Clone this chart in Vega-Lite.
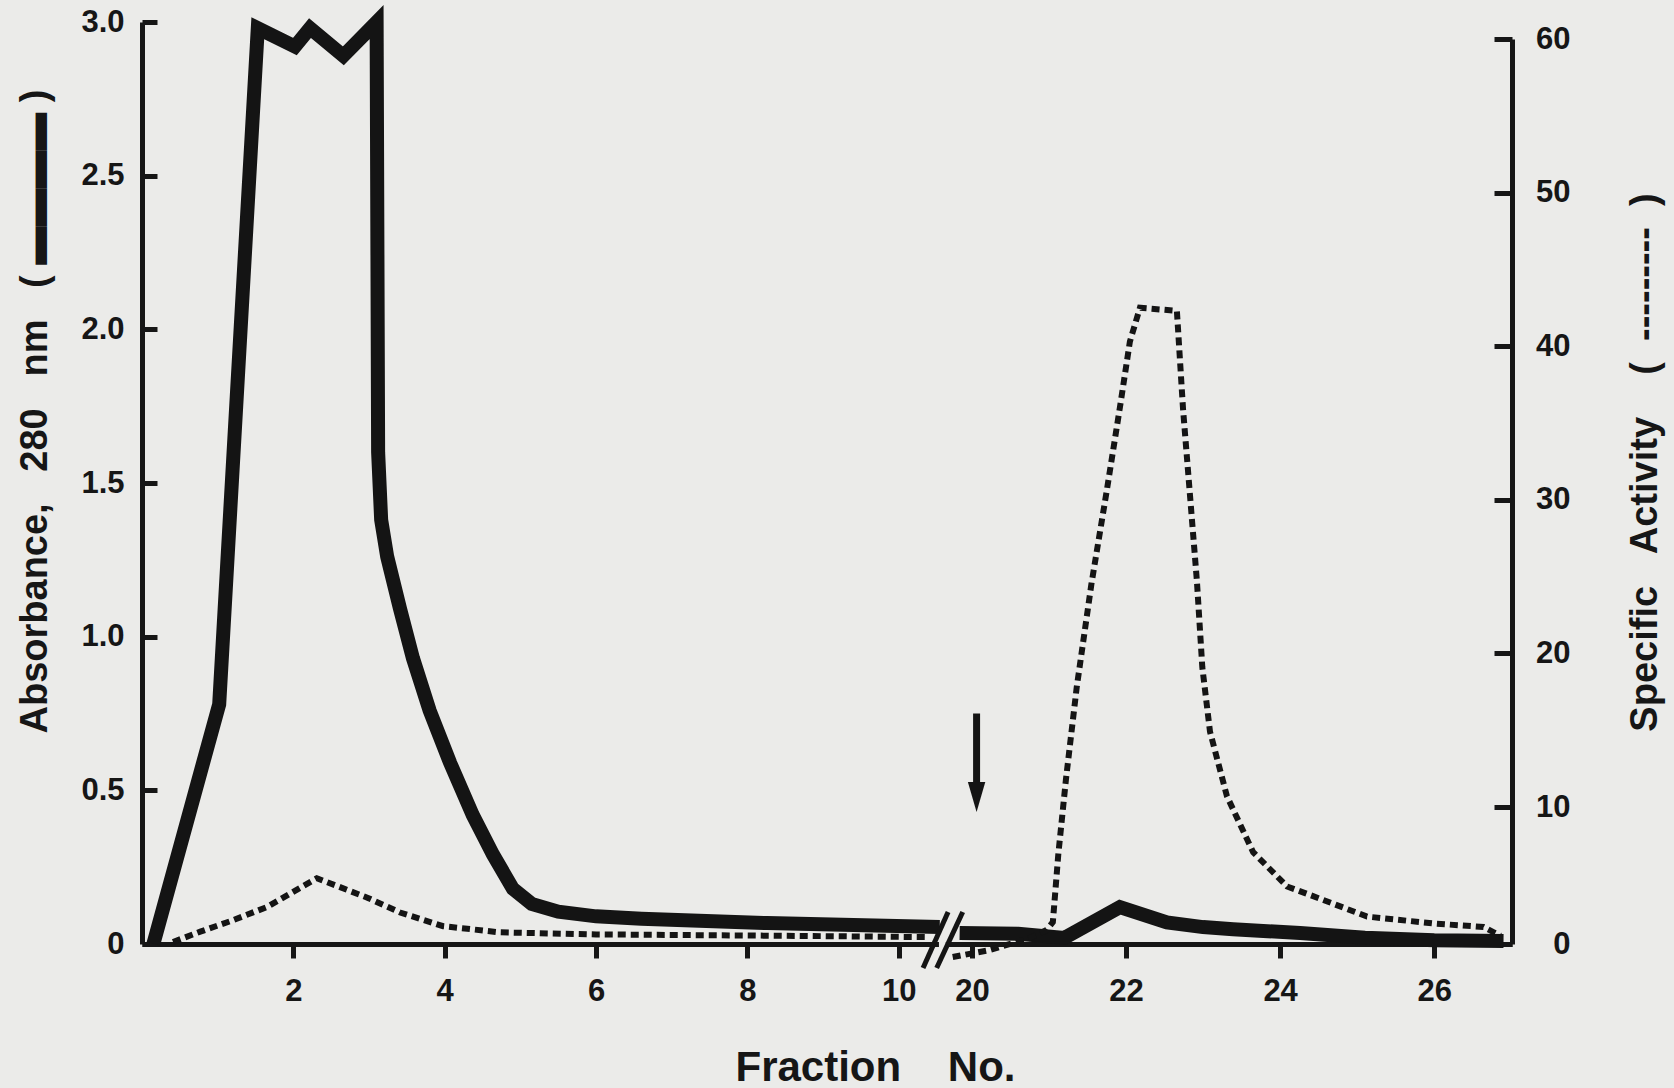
{
  "$schema": "https://vega.github.io/schema/vega-lite/v6.json",
  "width": 1370,
  "height": 922,
  "autosize": {"type": "none"},
  "padding": {"left": 142, "top": 22, "right": 162, "bottom": 144},
  "background": "#ebebe9",
  "config": {
    "view": {"stroke": null},
    "font": "Liberation Sans",
    "axis": {
      "grid": false,
      "labelFont": "Liberation Sans",
      "labelFontWeight": "bold",
      "labelFontSize": 31,
      "labelColor": "#161616",
      "titleFont": "Liberation Sans",
      "titleFontWeight": "bold",
      "titleFontSize": 38,
      "titleColor": "#161616",
      "domainColor": "#161616",
      "domainWidth": 5,
      "tickColor": "#161616",
      "tickWidth": 5
    }
  },
  "datasets": {
    "absorbance": [
      {"part": "A", "fraction": 0.15, "absorbance": 0},
      {"part": "A", "fraction": 1.02, "absorbance": 0.78},
      {"part": "A", "fraction": 1.53, "absorbance": 2.98},
      {"part": "A", "fraction": 2.02, "absorbance": 2.92},
      {"part": "A", "fraction": 2.22, "absorbance": 2.98},
      {"part": "A", "fraction": 2.66, "absorbance": 2.89},
      {"part": "A", "fraction": 3.10, "absorbance": 3.0},
      {"part": "A", "fraction": 3.12, "absorbance": 1.6},
      {"part": "A", "fraction": 3.16, "absorbance": 1.38},
      {"part": "A", "fraction": 3.24, "absorbance": 1.26},
      {"part": "A", "fraction": 3.41, "absorbance": 1.09},
      {"part": "A", "fraction": 3.58, "absorbance": 0.93},
      {"part": "A", "fraction": 3.80, "absorbance": 0.76},
      {"part": "A", "fraction": 4.07, "absorbance": 0.59},
      {"part": "A", "fraction": 4.37, "absorbance": 0.42},
      {"part": "A", "fraction": 4.64, "absorbance": 0.29},
      {"part": "A", "fraction": 4.90, "absorbance": 0.18},
      {"part": "A", "fraction": 5.15, "absorbance": 0.13},
      {"part": "A", "fraction": 5.50, "absorbance": 0.105},
      {"part": "A", "fraction": 6.0, "absorbance": 0.09},
      {"part": "A", "fraction": 6.6, "absorbance": 0.082},
      {"part": "A", "fraction": 8.26, "absorbance": 0.068},
      {"part": "A", "fraction": 10.54, "absorbance": 0.055},
      {"part": "B", "fraction": 19.84, "absorbance": 0.036},
      {"part": "B", "fraction": 20.6, "absorbance": 0.033},
      {"part": "B", "fraction": 21.2, "absorbance": 0.02},
      {"part": "B", "fraction": 21.92, "absorbance": 0.12},
      {"part": "B", "fraction": 22.53, "absorbance": 0.07},
      {"part": "B", "fraction": 23.0, "absorbance": 0.055},
      {"part": "B", "fraction": 23.39, "absorbance": 0.048},
      {"part": "B", "fraction": 24.26, "absorbance": 0.036},
      {"part": "B", "fraction": 25.1, "absorbance": 0.02},
      {"part": "B", "fraction": 26.0, "absorbance": 0.012},
      {"part": "B", "fraction": 26.9, "absorbance": 0.01}
    ],
    "activity": [
      {"part": "A", "fraction": 0.41, "activity": 0.15},
      {"part": "A", "fraction": 0.77, "activity": 0.9},
      {"part": "A", "fraction": 1.21, "activity": 1.75},
      {"part": "A", "fraction": 1.65, "activity": 2.7},
      {"part": "A", "fraction": 2.31, "activity": 4.8},
      {"part": "A", "fraction": 2.97, "activity": 3.4},
      {"part": "A", "fraction": 3.41, "activity": 2.3},
      {"part": "A", "fraction": 3.98, "activity": 1.3},
      {"part": "A", "fraction": 4.73, "activity": 0.85},
      {"part": "A", "fraction": 6.0, "activity": 0.7},
      {"part": "A", "fraction": 8.0, "activity": 0.62},
      {"part": "A", "fraction": 9.5, "activity": 0.55},
      {"part": "A", "fraction": 10.4, "activity": 0.5},
      {"part": "B", "fraction": 19.75, "activity": -0.95},
      {"part": "B", "fraction": 20.23, "activity": -0.44},
      {"part": "B", "fraction": 20.75, "activity": 0.44},
      {"part": "B", "fraction": 20.97, "activity": 1.02},
      {"part": "B", "fraction": 21.05, "activity": 1.6},
      {"part": "B", "fraction": 21.12, "activity": 6.5},
      {"part": "B", "fraction": 21.22, "activity": 11.8},
      {"part": "B", "fraction": 21.36, "activity": 17.8},
      {"part": "B", "fraction": 21.55, "activity": 24.5},
      {"part": "B", "fraction": 21.75, "activity": 30.6},
      {"part": "B", "fraction": 21.92, "activity": 36.0},
      {"part": "B", "fraction": 22.05, "activity": 40.3},
      {"part": "B", "fraction": 22.18, "activity": 42.5},
      {"part": "B", "fraction": 22.66, "activity": 42.3},
      {"part": "B", "fraction": 22.74, "activity": 35.9},
      {"part": "B", "fraction": 22.83, "activity": 30.3},
      {"part": "B", "fraction": 22.92, "activity": 24.7},
      {"part": "B", "fraction": 22.99, "activity": 19.1},
      {"part": "B", "fraction": 23.09, "activity": 14.9},
      {"part": "B", "fraction": 23.31, "activity": 10.7},
      {"part": "B", "fraction": 23.65, "activity": 6.7},
      {"part": "B", "fraction": 24.09, "activity": 4.2},
      {"part": "B", "fraction": 24.52, "activity": 3.3},
      {"part": "B", "fraction": 25.13, "activity": 2.0},
      {"part": "B", "fraction": 25.99, "activity": 1.5},
      {"part": "B", "fraction": 26.64, "activity": 1.24},
      {"part": "B", "fraction": 26.86, "activity": 0.6}
    ],
    "arrow": [
      {"fraction": 20.06, "top": 0.75, "bottom": 0.5, "tip": 0.478}
    ],
    "gap": [
      {"from": 10.53, "to": 19.66, "level": 0}
    ],
    "slashes": [
      {"from": 10.32, "to": 19.69, "low": -0.078, "high": 0.104},
      {"from": 10.50, "to": 19.88, "low": -0.078, "high": 0.104}
    ]
  },
  "layer": [
    {
      "data": {"name": "absorbance"},
      "mark": {"type": "line", "color": "#141414", "strokeWidth": 14, "strokeJoin": "miter", "strokeMiterLimit": 10, "strokeCap": "butt"},
      "encoding": {
        "x": {
          "field": "fraction",
          "type": "quantitative",
          "scale": {"domain": [0, 10.61, 19.65, 27.01], "range": [0, 803, 803, 1370], "nice": false, "zero": false},
          "axis": {
            "orient": "bottom",
            "values": [2, 4, 6, 8, 10, 20, 22, 24, 26],
            "format": "d",
            "tickSize": 14,
            "labelPadding": 18,
            "title": "Fraction\u00a0\u00a0\u00a0\u00a0No.",
            "titleFontSize": 42,
            "titleX": 733,
            "titleY": 123,
            "titleAlign": "center",
            "titleBaseline": "middle",
            "titleAnchor": "middle"
          }
        },
        "y": {
          "field": "absorbance",
          "type": "quantitative",
          "scale": {"domain": [0, 3], "nice": false, "zero": true},
          "axis": {
            "orient": "left",
            "values": [0, 0.5, 1, 1.5, 2, 2.5, 3],
            "labelExpr": "datum.value == 0 ? '0' : format(datum.value, '.1f')",
            "tickSize": -15,
            "labelPadding": 33,
            "labelBaseline": "middle",
            "title": "Absorbance,\u00a0\u00a0\u00a0280\u00a0\u00a0\u00a0nm\u00a0\u00a0\u00a0(\u00a0▬▬▬▬\u00a0)",
            "titleAngle": -90,
            "titleX": -107,
            "titleY": 389,
            "titleAlign": "center",
            "titleBaseline": "middle"
          }
        },
        "detail": {"field": "part", "type": "nominal"}
      }
    },
    {
      "data": {"name": "activity"},
      "mark": {"type": "line", "color": "#141414", "strokeWidth": 6, "strokeDash": [8, 5], "strokeCap": "butt"},
      "encoding": {
        "x": {
          "field": "fraction",
          "type": "quantitative",
          "scale": {"domain": [0, 10.61, 19.65, 27.01], "range": [0, 803, 803, 1370], "nice": false, "zero": false}
        },
        "y": {
          "field": "activity",
          "type": "quantitative",
          "scale": {"domain": [0, 10, 60], "range": [922, 785, 17], "nice": false, "zero": false},
          "axis": {
            "orient": "right",
            "values": [0, 10, 20, 30, 40, 50, 60],
            "format": "d",
            "tickSize": -18,
            "labelPadding": 76,
            "labelAlign": "right",
            "labelBaseline": "middle",
            "title": "Specific\u00a0\u00a0\u00a0Activity\u00a0\u00a0\u00a0\u00a0(\u00a0\u00a0---------\u00a0\u00a0)",
            "titleAngle": -90,
            "titleX": 133,
            "titleY": 440,
            "titleAlign": "center",
            "titleBaseline": "middle"
          }
        },
        "detail": {"field": "part", "type": "nominal"}
      }
    },
    {
      "data": {"name": "gap"},
      "mark": {"type": "rule", "color": "#ebebe9", "strokeWidth": 9},
      "encoding": {
        "x": {"field": "from", "type": "quantitative"},
        "x2": {"field": "to"},
        "y": {"field": "level", "type": "quantitative", "scale": {"domain": [0, 3], "nice": false}, "axis": null}
      }
    },
    {
      "data": {"name": "slashes"},
      "mark": {"type": "rule", "color": "#141414", "strokeWidth": 5},
      "encoding": {
        "x": {"field": "from", "type": "quantitative"},
        "x2": {"field": "to"},
        "y": {"field": "low", "type": "quantitative", "scale": {"domain": [0, 3], "nice": false}, "axis": null},
        "y2": {"field": "high"}
      }
    },
    {
      "data": {"name": "arrow"},
      "mark": {"type": "rule", "color": "#141414", "strokeWidth": 7},
      "encoding": {
        "x": {"field": "fraction", "type": "quantitative"},
        "y": {"field": "top", "type": "quantitative", "scale": {"domain": [0, 3], "nice": false}, "axis": null},
        "y2": {"field": "bottom"}
      }
    },
    {
      "data": {"name": "arrow"},
      "mark": {"type": "point", "shape": "M-0.58,-1L0.58,-1L0,1Z", "size": 900, "filled": true, "color": "#141414", "opacity": 1},
      "encoding": {
        "x": {"field": "fraction", "type": "quantitative"},
        "y": {"field": "tip", "type": "quantitative", "scale": {"domain": [0, 3], "nice": false}, "axis": null}
      }
    }
  ],
  "resolve": {"scale": {"y": "independent"}, "axis": {"y": "independent"}}
}
